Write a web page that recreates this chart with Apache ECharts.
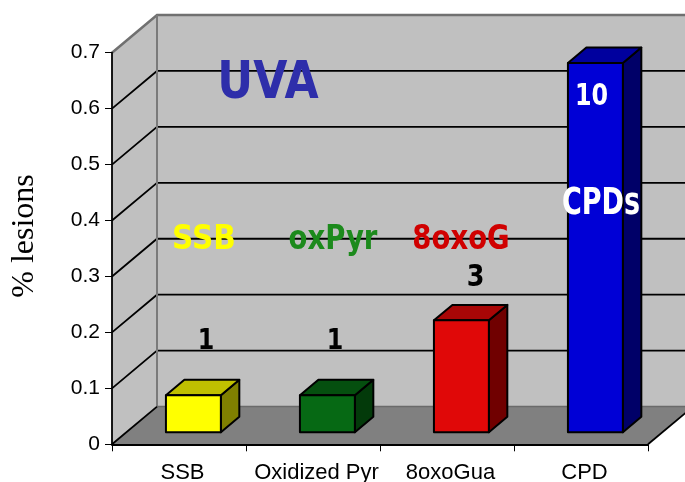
<!DOCTYPE html>
<html>
<head>
<meta charset="utf-8">
<script src="https://cdn.jsdelivr.net/npm/echarts@6/dist/echarts.min.js"></script>
<style>
  html, body { margin: 0; padding: 0; background: #ffffff; }
  #chart { width: 685px; height: 482px; }
</style>
</head>
<body>
<div id="chart"></div>
<script>
// ---------------- data ----------------
const categories = ['SSB', 'Oxidized Pyr', '8oxoGua', 'CPD'];
const lesionValues = [0.066, 0.066, 0.2, 0.66];
const yTickLabels = ['0', '0.1', '0.2', '0.3', '0.4', '0.5', '0.6', '0.7'];
const ratioLabels = ['1', '1', '3', '10'];
const lesionNames = ['SSB', 'oxPyr', '8oxoG', 'CPDs'];
const titleText = 'UVA';
const yAxisTitle = '% lesions';

// ---------------- styling ----------------
const Y_MIN = 0, Y_MAX = 0.7, Y_STEP = 0.1;
const DEPTH = [45, -37.7];      // 3D depth vector of the floor
const F0 = 0.32, F1 = 0.73;     // bar front/back depth fractions
const BAR_W = 0.41;             // bar width as fraction of category
const barColors = [
  { front: '#ffff00', top: '#c0c000', side: '#808000' },
  { front: '#066914', top: '#054f0f', side: '#033a0a' },
  { front: '#e00808', top: '#a80606', side: '#700000' },
  { front: '#0000d6', top: '#00009e', side: '#000068' }
];
const BOLD = '"DejaVu Sans", "Liberation Sans", sans-serif';

function renderWalls(params, api) {
  const cs = params.coordSys;
  const x0 = cs.x, x1 = cs.x + cs.width;
  const yb = api.coord([0, Y_MIN])[1];
  const yt = api.coord([0, Y_MAX])[1];
  const dx = DEPTH[0], dy = DEPTH[1];
  const children = [];
  children.push({ type: 'polygon', shape: { points: [[x0, yt], [x0 + dx, yt + dy], [x0 + dx, yb + dy], [x0, yb]] },
    style: { fill: '#c0c0c0' } });
  children.push({ type: 'rect', shape: { x: x0 + dx, y: yt + dy, width: x1 - x0 + 40, height: yb - yt },
    style: { fill: '#c0c0c0' } });
  children.push({ type: 'polygon', shape: { points: [[x0, yb], [x0 + dx, yb + dy], [x1 + dx, yb + dy], [x1, yb]] },
    style: { fill: '#808080' } });
  for (let k = 1; k < yTickLabels.length; k++) {
    const v = Y_MIN + k * Y_STEP;
    const y = api.coord([0, v])[1];
    const isTop = k === yTickLabels.length - 1;
    children.push({ type: 'polyline', shape: { points: [[x0, y], [x0 + dx, y + dy], [x1 + dx + 20, y + dy]] },
      style: { stroke: isTop ? '#707070' : '#000', lineWidth: isTop ? 2.5 : 1.8, fill: null } });
  }
  children.push({ type: 'line', shape: { x1: x0 + dx, y1: yt + dy, x2: x0 + dx, y2: yb + dy },
    style: { stroke: '#7a7a7a', lineWidth: 2 } });
  children.push({ type: 'line', shape: { x1: x0 + dx, y1: yb + dy, x2: x1 + dx + 20, y2: yb + dy },
    style: { stroke: '#6a6a6a', lineWidth: 1.5 } });
  children.push({ type: 'line', shape: { x1: x0, y1: yb, x2: x0 + dx, y2: yb + dy },
    style: { stroke: '#000', lineWidth: 1.8 } });
  children.push({ type: 'line', shape: { x1: x1, y1: yb, x2: x1 + dx, y2: yb + dy },
    style: { stroke: '#000', lineWidth: 1.8 } });
  return { type: 'group', children: children };
}

function renderBar(params, api) {
  const i = api.value(0), v = api.value(1);
  const p = api.coord([i, v]);
  const yBase = api.coord([i, 0])[1];
  const w = api.size([1, 0])[0] * BAR_W;
  const fx = DEPTH[0] * F0, fy = DEPTH[1] * F0;
  const ddx = DEPTH[0] * (F1 - F0), ddy = DEPTH[1] * (F1 - F0);
  const L = p[0] - w / 2 + fx, R = p[0] + w / 2 + fx, T = p[1] + fy, B = yBase + fy;
  const c = barColors[params.dataIndex];
  const edge = { stroke: '#000', lineWidth: 2, lineJoin: 'round' };
  return {
    type: 'group',
    children: [
      { type: 'polygon', shape: { points: [[R, T], [R + ddx, T + ddy], [R + ddx, B + ddy], [R, B]] },
        style: Object.assign({ fill: c.side }, edge) },
      { type: 'polygon', shape: { points: [[L, T], [R, T], [R + ddx, T + ddy], [L + ddx, T + ddy]] },
        style: Object.assign({ fill: c.top }, edge) },
      { type: 'rect', shape: { x: L, y: T, width: R - L, height: B - T },
        style: Object.assign({ fill: c.front }, edge) }
    ]
  };
}

function txt(text, x, y, size, color, scaleX, family) {
  return {
    type: 'text', x: x, y: y, scaleX: scaleX || 1, z: 100,
    style: {
      text: text, fill: color,
      font: (family ? '' : 'bold ') + size + 'px ' + (family || BOLD),
      textAlign: 'center', align: 'center',
      textVerticalAlign: 'middle', verticalAlign: 'middle'
    }
  };
}

const chart = echarts.init(document.getElementById('chart'), null, { renderer: 'canvas' });
const option = {
  animation: false,
  backgroundColor: '#ffffff',
  grid: { left: 112, right: 37, top: 52.7, bottom: 37.7, containLabel: false, outerBoundsMode: 'none' },
  xAxis: {
    type: 'category',
    data: categories,
    boundaryGap: true,
    axisLine: { show: true, lineStyle: { color: '#000', width: 1.8 } },
    axisTick: { show: true, length: 7, alignWithLabel: false, interval: 0, lineStyle: { color: '#000', width: 1 } },
    axisLabel: { interval: 0, margin: 18, color: '#000', fontSize: 22, fontFamily: '"Liberation Sans", Arial, sans-serif',
      padding: [0, 0, 0, 7] },
    splitLine: { show: false }
  },
  yAxis: {
    type: 'value',
    min: Y_MIN, max: Y_MAX, interval: Y_STEP,
    axisLine: { show: true, lineStyle: { color: '#000', width: 1.8 } },
    axisTick: { show: true, length: 7, lineStyle: { color: '#000', width: 1 } },
    axisLabel: { margin: 12, color: '#000', fontSize: 21, fontFamily: '"Liberation Sans", Arial, sans-serif',
      formatter: function (v) { return yTickLabels[Math.round((v - Y_MIN) / Y_STEP)]; } },
    splitLine: { show: false }
  },
  series: [
    { type: 'custom', name: 'walls', z: -1, clip: false, silent: true,
      renderItem: renderWalls, data: [[0, 0]] },
    { type: 'custom', name: '% lesions', z: 5, clip: false,
      renderItem: renderBar,
      data: lesionValues.map(function (v, i) { return [i, v]; }) }
  ],
  graphic: [
    Object.assign(txt(yAxisTitle, 25, 236, 32, '#000', 1, '"Liberation Serif", "Times New Roman", serif'), { rotation: Math.PI / 2 }),
    txt(titleText, 268, 84, 52, '#2e2eaa', 0.85),
    txt(lesionNames[0], 204, 240, 34, '#ffff00', 0.87),
    txt(lesionNames[1], 333, 240, 34, '#1c8a1c', 0.81),
    txt(lesionNames[2], 461, 240, 34, '#d00000', 0.81),
    txt(ratioLabels[0], 206, 342, 28, '#000', 0.85),
    txt(ratioLabels[1], 335, 342, 28, '#000', 0.85),
    txt(ratioLabels[2], 475.5, 278, 30, '#000', 0.85),
    txt(ratioLabels[3], 591.5, 96.5, 31, '#ffffff', 0.77),
    txt(lesionNames[3], 601, 204, 37, '#ffffff', 0.73)
  ]
};
chart.setOption(option);
</script>
</body>
</html>
